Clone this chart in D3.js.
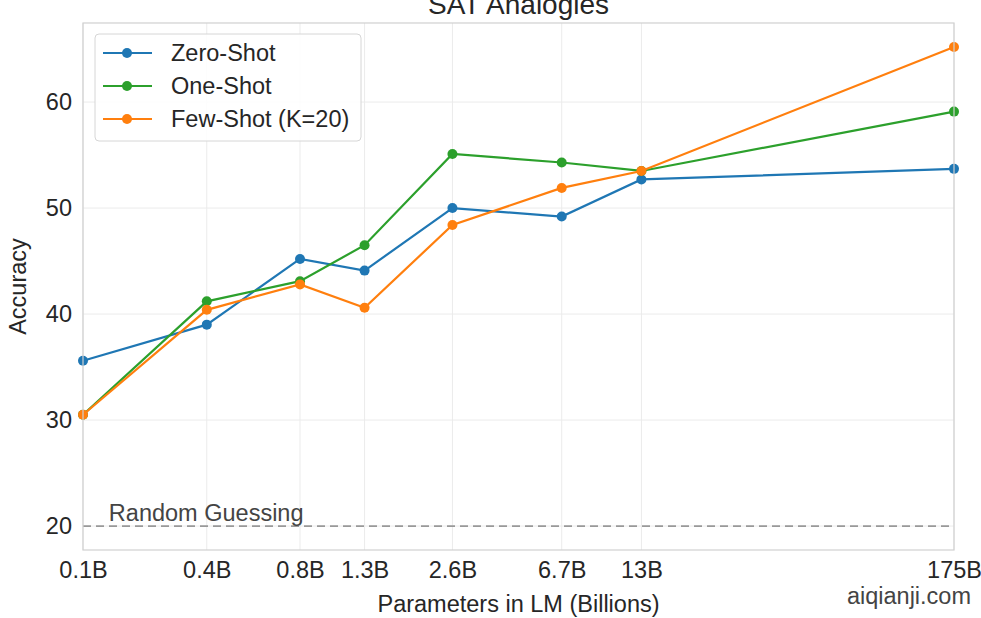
<!DOCTYPE html>
<html>
<head>
<meta charset="utf-8">
<script src="https://cdn.jsdelivr.net/npm/d3@7"></script>
<style>
  body { margin: 0; background: #fff; }
  text { font-family: "Liberation Sans", Arial, sans-serif; }
</style>
</head>
<body>
<svg id="chart"></svg>
<script>
// model sizes (billions) and the labels printed under them
const params = [0.125, 0.35, 0.76, 1.3, 2.7, 6.7, 13, 175];
const tickLabels = ["0.1B", "0.4B", "0.8B", "1.3B", "2.6B", "6.7B", "13B", "175B"];
const zeroShot = [35.6, 39.0, 45.2, 44.1, 50.0, 49.2, 52.7, 53.7];
const oneShot = [30.5, 41.2, 43.1, 46.5, 55.1, 54.3, 53.5, 59.1];
const fewShot = [30.5, 40.4, 42.8, 40.6, 48.4, 51.9, 53.5, 65.2];
const yTicks = [20, 30, 40, 50, 60];
const randomGuess = 20;

const series = [
    {name: "Zero-Shot", values: zeroShot, color: "#1f77b4"},
    {name: "One-Shot", values: oneShot, color: "#2ca02c"},
    {name: "Few-Shot (K=20)", values: fewShot, color: "#ff7f0e"}
];

const W = 981, H = 618;
const margin = {top: 23, right: 27, bottom: 68, left: 83};
const width = W - margin.left - margin.right;
const height = H - margin.top - margin.bottom;
const fs = 23.5;

const svg = d3.select("#chart").attr("width", W).attr("height", H);
const g = svg.append("g").attr("transform", `translate(${margin.left},${margin.top})`);

const x = d3.scaleLog().domain([0.125, 175]).range([0, width]);
const y = d3.scaleLinear().domain([17.74, 67.46]).range([height, 0]);

// grid
g.append("g").selectAll("line").data(params).join("line")
    .attr("x1", d => x(d)).attr("x2", d => x(d))
    .attr("y1", 0).attr("y2", height)
    .attr("stroke", "#ebebeb").attr("stroke-width", 1);
g.append("g").selectAll("line").data(yTicks).join("line")
    .attr("x1", 0).attr("x2", width)
    .attr("y1", d => y(d)).attr("y2", d => y(d))
    .attr("stroke", "#ebebeb").attr("stroke-width", 1);

// axes (ticks hidden, labels only)
const xAxis = g.append("g").attr("transform", `translate(0,${height})`)
    .call(d3.axisBottom(x).tickValues(params).tickFormat((d, i) => tickLabels[i]).tickSize(0).tickPadding(11));
const yAxis = g.append("g")
    .call(d3.axisLeft(y).tickValues(yTicks).tickSize(0).tickPadding(11));
[xAxis, yAxis].forEach(a => {
    a.select(".domain").remove();
    a.selectAll("text").attr("font-size", fs).attr("fill", "#262626")
        .style("font-family", "'Liberation Sans', Arial, sans-serif");
});

// random guessing
g.append("line")
    .attr("x1", 0).attr("x2", width)
    .attr("y1", y(randomGuess)).attr("y2", y(randomGuess))
    .attr("stroke", "#999").attr("stroke-width", 1.7).attr("stroke-dasharray", "8,5");
g.append("text")
    .attr("x", x(0.155)).attr("y", y(randomGuess) - 5)
    .attr("font-size", fs).attr("fill", "#444")
    .text("Random Guessing");

// lines
const line = d3.line().x((d, i) => x(params[i])).y(d => y(d));
series.forEach(s => {
    g.append("path").datum(s.values)
        .attr("fill", "none").attr("stroke", s.color).attr("stroke-width", 2.2)
        .attr("d", line);
    g.append("g").selectAll("circle").data(s.values).join("circle")
        .attr("cx", (d, i) => x(params[i])).attr("cy", d => y(d))
        .attr("r", 5).attr("fill", s.color);
});

// frame
g.append("rect").attr("width", width).attr("height", height)
    .attr("fill", "none").attr("stroke", "#d0d0d0").attr("stroke-width", 1.2);

// legend
const lg = g.append("g").attr("transform", "translate(12,11)");
lg.append("rect").attr("width", 266).attr("height", 107).attr("rx", 4)
    .attr("fill", "#fff").attr("fill-opacity", 0.85)
    .attr("stroke", "#d6d6d6").attr("stroke-width", 1);
series.forEach((s, i) => {
    const yy = 19 + i * 33;
    lg.append("line").attr("x1", 8).attr("x2", 57).attr("y1", yy).attr("y2", yy)
        .attr("stroke", s.color).attr("stroke-width", 2.2);
    lg.append("circle").attr("cx", 32).attr("cy", yy).attr("r", 5).attr("fill", s.color);
    lg.append("text").attr("x", 76).attr("y", yy + 8)
        .attr("font-size", fs).attr("fill", "#262626").text(s.name);
});

// titles
svg.append("text").attr("x", margin.left + width / 2).attr("y", 14)
    .attr("text-anchor", "middle").attr("font-size", 28).attr("fill", "#262626")
    .text("SAT Analogies");
svg.append("text").attr("x", margin.left + width / 2).attr("y", 612)
    .attr("text-anchor", "middle").attr("font-size", fs).attr("fill", "#262626")
    .text("Parameters in LM (Billions)");
svg.append("text")
    .attr("transform", `translate(26,${margin.top + height / 2}) rotate(-90)`)
    .attr("text-anchor", "middle").attr("font-size", fs).attr("fill", "#262626")
    .text("Accuracy");

// watermark
svg.append("text").attr("x", 971).attr("y", 604).attr("text-anchor", "end")
    .attr("font-size", fs).attr("fill", "#444").text("aiqianji.com");
</script>
</body>
</html>
